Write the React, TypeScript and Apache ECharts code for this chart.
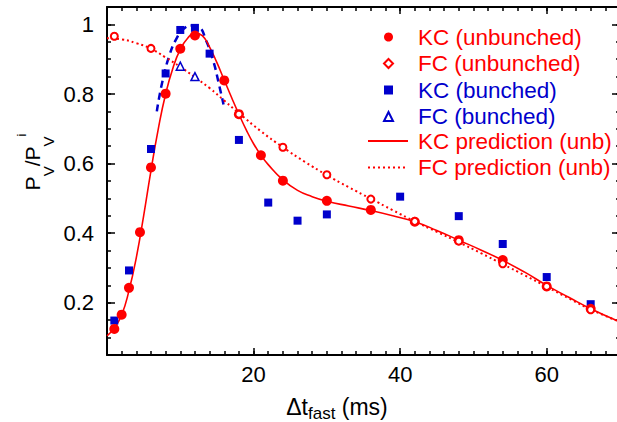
import React, { useEffect, useRef } from "react";
import * as echarts from "echarts";

const RED = "#ff0000";
const BLUE = "#0000cc";
const FONT = "Liberation Sans";

// measured points
const kcUnbX = [1, 2, 3, 4.5, 6, 8, 10, 12, 16, 18, 21, 24, 30, 36, 42, 48, 54, 60, 66];
const kcUnbY = [0.125, 0.166, 0.243, 0.403, 0.589, 0.801, 0.93, 0.968, 0.839, 0.742, 0.624, 0.551, 0.493, 0.467, 0.433, 0.38, 0.323, 0.247, 0.183];

const fcUnbX = [1, 6, 18, 24, 30, 36, 42, 48, 54, 60, 66];
const fcUnbY = [0.966, 0.931, 0.742, 0.647, 0.568, 0.498, 0.434, 0.377, 0.312, 0.247, 0.18];

const kcBunX = [1, 3, 6, 8, 10, 12, 14, 18, 22, 26, 30, 40, 48, 54, 60, 66];
const kcBunY = [0.149, 0.293, 0.642, 0.859, 0.984, 0.99, 0.916, 0.668, 0.488, 0.436, 0.454, 0.505, 0.449, 0.369, 0.274, 0.196];

const fcBunX = [10, 12];
const fcBunY = [0.88, 0.85];

// prediction curves
const kcPredX = [0, 1, 2, 3, 4, 5, 6, 7, 8, 9, 10, 11, 12, 13, 14, 15, 16, 17, 18, 19, 20, 21, 22, 24, 26, 28, 30, 33, 36, 39, 42, 45, 48, 51, 54, 57, 60, 63, 66, 70];
const kcPredY = [0.105, 0.128, 0.165, 0.235, 0.33, 0.45, 0.58, 0.7, 0.8, 0.875, 0.928, 0.96, 0.975, 0.968, 0.935, 0.89, 0.84, 0.79, 0.742, 0.697, 0.657, 0.624, 0.597, 0.553, 0.523, 0.505, 0.492, 0.478, 0.465, 0.45, 0.433, 0.408, 0.38, 0.352, 0.322, 0.288, 0.25, 0.216, 0.183, 0.145];

const fcPredX = [0, 2, 4, 6, 8, 10, 12, 14, 16, 18, 21, 24, 27, 30, 33, 36, 39, 42, 45, 48, 51, 54, 57, 60, 63, 66, 70];
const fcPredY = [0.96, 0.957, 0.946, 0.93, 0.905, 0.878, 0.848, 0.817, 0.781, 0.745, 0.693, 0.647, 0.605, 0.567, 0.532, 0.499, 0.466, 0.434, 0.404, 0.374, 0.343, 0.311, 0.279, 0.246, 0.213, 0.181, 0.145];

const bunPredX = [6.8, 7.5, 8.5, 9.5, 10.5, 11.5, 12.5, 13.5, 14.5, 15.2, 15.9];
const bunPredY = [0.75, 0.83, 0.91, 0.96, 0.988, 0.997, 0.993, 0.955, 0.895, 0.835, 0.77];

const xLabels = [20, 40, 60];
const yLabels = [0.2, 0.4, 0.6, 0.8, 1];

const zip = (xs: number[], ys: number[]) => xs.map((x, i) => [x, ys[i]]);

const X_MIN = 0, X_MAX = 70, Y_MIN = 0.05, Y_MAX = 1.05;

export default function App() {
  const ref = useRef<HTMLDivElement>(null);
  useEffect(() => {
    if (!ref.current) return;
    const chart = echarts.init(ref.current, null, { renderer: "svg" });
    const axisLineStyle = { color: "#000", width: 2 };
    const tickStyle = { color: "#000", width: 1.5 };
    const xBase = (pos: string, interval: number, len: number, labels: boolean, line: boolean) => ({
      type: "value",
      position: pos,
      min: X_MIN,
      max: X_MAX,
      interval,
      axisLine: { show: line, onZero: false, lineStyle: axisLineStyle },
      axisTick: { show: true, inside: true, length: len, lineStyle: tickStyle },
      axisLabel: labels
        ? {
            show: true,
            fontSize: 22,
            fontFamily: FONT,
            color: "#000",
            margin: 8,
            formatter: (v: number) => (xLabels.indexOf(Math.round(v)) >= 0 && Math.abs(v - Math.round(v)) < 1e-6 ? String(Math.round(v)) : ""),
          }
        : { show: false },
      splitLine: { show: false },
    });
    const yMinor = (pos: string, labels: boolean) => ({
      type: "value",
      position: pos,
      min: Y_MIN,
      max: Y_MAX,
      interval: 0.05,
      axisLine: { show: true, onZero: false, lineStyle: axisLineStyle },
      axisTick: { show: true, inside: true, length: 4, lineStyle: tickStyle },
      axisLabel: labels
        ? {
            show: true,
            fontSize: 22,
            fontFamily: FONT,
            color: "#000",
            margin: 13,
            formatter: (v: number) => {
              const r = Math.round(v * 10) / 10;
              return yLabels.some((l) => Math.abs(l - v) < 1e-6) ? String(r) : "";
            },
          }
        : { show: false },
      splitLine: { show: false },
    });
    const yMajor = (pos: string) => ({
      type: "value",
      position: pos,
      min: Y_MIN,
      max: Y_MAX,
      minInterval: 0.2,
      maxInterval: 0.2,
      axisLine: { show: false, onZero: false },
      axisTick: { show: true, inside: true, length: 8, lineStyle: tickStyle },
      axisLabel: { show: false },
      splitLine: { show: false },
    });
    const legendText = { fontSize: 22.5, lineHeight: 22, fontFamily: FONT };

    chart.setOption({
      animation: false,
      grid: { left: 107, top: 7, width: 513, height: 348, containLabel: false, outerBoundsMode: "none" },
      xAxis: [
        xBase("bottom", 2, 4, true, true),
        xBase("bottom", 20, 7, false, false),
        xBase("top", 2, 4, false, true),
        xBase("top", 20, 7, false, false),
      ],
      yAxis: [yMinor("left", true), yMajor("left"), yMinor("right", false), yMajor("right")],
      legend: [
        {
          orient: "vertical",
          left: 383,
          top: 25.5,
          padding: 0,
          itemWidth: 9,
          itemHeight: 9,
          itemGap: 3.5,
          align: "left",
          selectedMode: false,
          textStyle: { ...legendText, padding: [0, 0, 0, 20] },
          data: [
            { name: "KC (unbunched)", icon: "circle", textStyle: { color: RED } },
            { name: "FC (unbunched)", icon: "diamond", textStyle: { color: RED } },
            { name: "KC (bunched)", icon: "rect", textStyle: { color: BLUE } },
            { name: "FC (bunched)", icon: "triangle", textStyle: { color: BLUE } },
          ],
        },
        {
          orient: "vertical",
          left: 367,
          top: 25.5 + 4 * 26,
          padding: 0,
          itemWidth: 40,
          itemHeight: 9,
          itemGap: 3.5,
          align: "left",
          selectedMode: false,
          itemStyle: { opacity: 0 },
          textStyle: { ...legendText, padding: [0, 0, 0, 5] },
          data: [
            { name: "KC prediction (unb)", textStyle: { color: RED } },
            { name: "FC prediction (unb)", textStyle: { color: RED } },
          ],
        },
      ],
      graphic: [
        {
          type: "text",
          x: 337,
          y: 406.75,
          style: {
            text: "{m|Δt}{s|fast}{m| (ms)}",
            align: "center",
            verticalAlign: "middle",
            rich: {
              m: { fontSize: 23, fontFamily: FONT, fill: "#000", lineHeight: 23, verticalAlign: "top" },
              s: { fontSize: 17, fontFamily: FONT, fill: "#000", lineHeight: 17, verticalAlign: "top", padding: [9.5, 0, 0, 0] },
            },
          },
        },
        {
          type: "text",
          x: 22.25,
          y: 162,
          rotation: Math.PI / 2,
          style: {
            text: "{m|P}{s|V}{m|/P}{s|V}{u|i}",
            align: "center",
            verticalAlign: "middle",
            rich: {
              m: { fontSize: 21, fontFamily: FONT, fill: "#000", lineHeight: 20, verticalAlign: "top", padding: [10, 0, 0, 0] },
              s: { fontSize: 15, fontFamily: FONT, fill: "#000", lineHeight: 15, verticalAlign: "top", padding: [28.5, 0, 0, 0] },
              u: { fontSize: 13, fontFamily: FONT, fill: "#000", lineHeight: 14, verticalAlign: "top", padding: [3, 0, 0, 0] },
            },
          },
        },
      ],
      series: [
        {
          type: "line",
          name: "bunched prediction",
          data: zip(bunPredX, bunPredY),
          smooth: true,
          symbol: "none",
          lineStyle: { color: BLUE, width: 2.5, type: [7, 5] },
          z: 2,
        },
        {
          type: "line",
          name: "KC prediction (unb)",
          data: zip(kcPredX, kcPredY),
          smooth: true,
          symbol: "none",
          itemStyle: { color: RED },
          lineStyle: { color: RED, width: 1.6 },
          z: 2,
        },
        {
          type: "line",
          name: "FC prediction (unb)",
          data: zip(fcPredX, fcPredY),
          smooth: true,
          symbol: "none",
          itemStyle: { color: RED },
          lineStyle: { color: RED, width: 2, type: [2, 3] },
          z: 2,
        },
        {
          type: "scatter",
          name: "KC (bunched)",
          data: zip(kcBunX, kcBunY),
          symbol: "rect",
          symbolSize: 8,
          itemStyle: { color: BLUE, opacity: 1 },
          z: 3,
        },
        {
          type: "scatter",
          name: "KC (unbunched)",
          data: zip(kcUnbX, kcUnbY),
          symbol: "circle",
          symbolSize: 10,
          itemStyle: { color: RED, opacity: 1 },
          z: 4,
        },
        {
          type: "scatter",
          name: "FC (unbunched)",
          data: zip(fcUnbX, fcUnbY),
          symbol: "circle",
          symbolSize: 7,
          itemStyle: { color: "#fff", borderColor: RED, borderWidth: 2, opacity: 1 },
          z: 5,
        },
        {
          type: "scatter",
          name: "FC (bunched)",
          data: zip(fcBunX, fcBunY),
          symbol: "triangle",
          symbolSize: 8,
          itemStyle: { color: "#fff", borderColor: BLUE, borderWidth: 1.5, opacity: 1 },
          z: 5,
        },
      ],
    });
    return () => chart.dispose();
  }, []);
  return <div ref={ref} style={{ position: "fixed", left: 0, top: 0, width: 617, height: 422, background: "#fff" }} />;
}
